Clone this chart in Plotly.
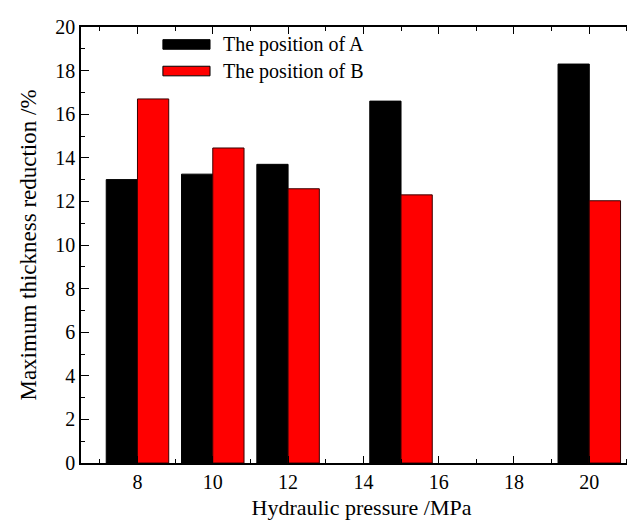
import plotly.graph_objects as go

pressure = [8, 10, 12, 15, 20]
pos_a = [13.0, 13.25, 13.7, 16.6, 18.3]
pos_b = [16.7, 14.45, 12.58, 12.3, 12.03]
series_names = ["The position of A", "The position of B"]
series_colors = ["#000000", "#ff0000"]

FONT = "Liberation Serif"
bw = 0.83

fig = go.Figure()
fig.add_trace(go.Bar(x=pressure, y=pos_a, name=series_names[0], width=bw, offset=-bw,
                     marker=dict(color=series_colors[0], line=dict(color="#000000", width=1)),
                     showlegend=False))
fig.add_trace(go.Bar(x=pressure, y=pos_b, name=series_names[1], width=bw, offset=0,
                     marker=dict(color=series_colors[1], line=dict(color="#3a0000", width=1)),
                     showlegend=False))

# manual legend
leg_y = [0.960, 0.899]
for i, (nm, col) in enumerate(zip(series_names, series_colors)):
    y0 = leg_y[i]
    fig.add_shape(type="rect", xref="paper", yref="paper",
                  x0=0.146, x1=0.230, y0=y0 - 0.011, y1=y0 + 0.011,
                  fillcolor=col, line=dict(color="#000000", width=1))
    fig.add_annotation(xref="paper", yref="paper", x=0.249, y=y0, text=nm,
                       showarrow=False, xanchor="left", yanchor="middle",
                       font=dict(family=FONT, size=20, color="#000000"))

fig.update_layout(
    width=635, height=524,
    margin=dict(l=73, r=1, t=19, b=69),
    paper_bgcolor="white", plot_bgcolor="white",
    font=dict(family=FONT, size=20, color="#000000"),
    barmode="overlay",
)
fig.update_xaxes(
    range=[6.5, 21.4], tickmode="linear", tick0=8, dtick=2,
    ticks="inside", ticklen=7, tickwidth=1, tickcolor="#000",
    minor=dict(dtick=1, tick0=7, ticks="inside", ticklen=4, tickcolor="#000"),
    showline=True, linecolor="#000", linewidth=1.5, mirror="ticks",
    showgrid=False, zeroline=False,
    tickfont=dict(family=FONT, size=20),
    title=dict(text="Hydraulic pressure /MPa", font=dict(family=FONT, size=22), standoff=8),
)
fig.update_yaxes(
    range=[0, 20], tickmode="linear", tick0=0, dtick=2,
    ticks="inside", ticklen=8, tickwidth=1, tickcolor="#000",
    minor=dict(dtick=1, ticks="inside", ticklen=4, tickcolor="#000"),
    showline=True, linecolor="#000", linewidth=1.5, mirror=False,
    showgrid=False, zeroline=False,
    tickfont=dict(family=FONT, size=20),
    title=dict(text="Maximum thickness reduction /%", font=dict(family=FONT, size=23), standoff=12),
)

fig.write_html("out.html")
